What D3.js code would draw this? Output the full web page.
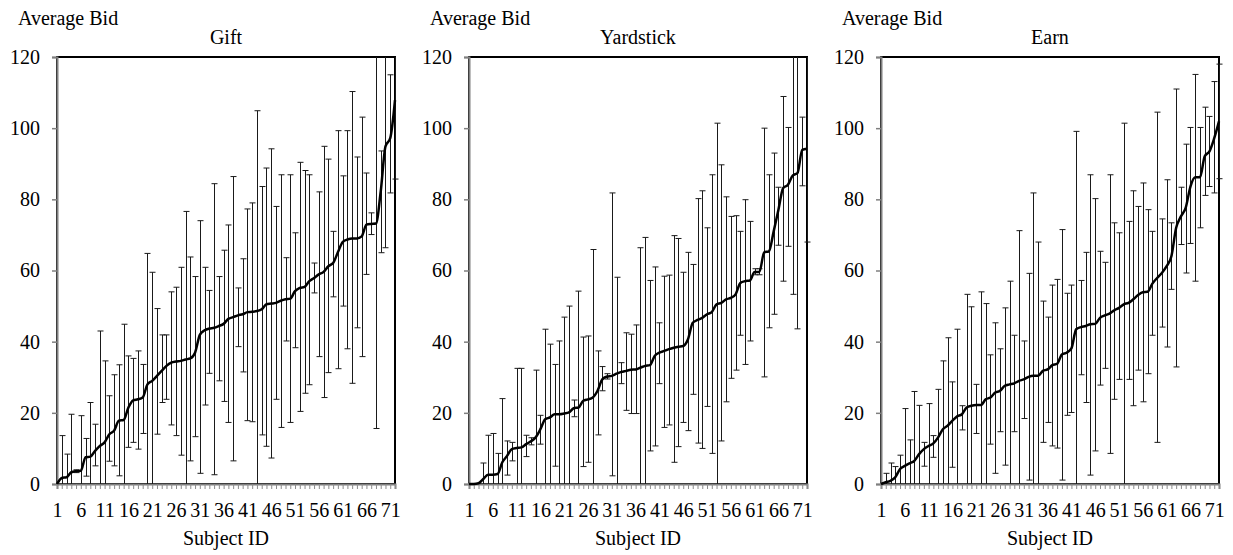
<!DOCTYPE html>
<html><head><meta charset="utf-8">
<script src="https://cdn.jsdelivr.net/npm/d3@7"></script>
<style>
body{margin:0;background:#fff}
svg{display:block}
text{font-family:"Times New Roman","Liberation Serif",Times,serif;fill:#000}
</style>
</head><body>
<svg id="c" width="1233" height="555"></svg>
<script>
const subjects = d3.range(1, 73);
const xTickLabels = [1, 6, 11, 16, 21, 26, 31, 36, 41, 46, 51, 56, 61, 66, 71];
const yTicks = [0, 20, 40, 60, 80, 100, 120];
const panelTitles = ["Gift", "Yardstick", "Earn"];
const yLabel = "Average Bid";
const xLabel = "Subject ID";

const giftMean = [0,1.7,1.9,3.3,3.6,3.7,7.5,7.7,9.3,10.7,11.7,14.0,15.0,17.8,18.0,21.5,23.5,23.8,24.3,28.0,29.0,30.4,31.8,33.2,34.1,34.4,34.6,35.0,35.3,36.9,41.9,43.2,43.7,43.9,44.4,45.0,46.4,46.9,47.4,47.7,48.3,48.4,48.6,49.1,50.5,50.7,50.9,51.5,51.9,52.1,54.2,55.1,55.4,57.0,57.9,58.9,59.6,61.2,62.1,65.1,68.0,68.7,69.0,69.0,69.6,72.9,73.1,73.2,82.2,94.9,97.2,107.9];
const giftHigh = [0,13.6,8.4,19.6,4.0,19.2,12.8,22.9,16.8,43.0,34.6,24.8,30.7,33.5,44.9,36.0,35.3,37.4,33.6,64.8,59.5,49.3,41.9,41.9,54.0,55.3,60.9,76.6,63.8,58.3,74.0,60.9,54.4,84.4,58.3,65.7,72.8,86.4,55.1,63.3,77.3,79.0,104.9,83.6,88.8,94.2,78.0,86.9,63.6,86.9,70.6,90.4,88.1,86.9,62.1,82.1,94.9,91.3,71.0,99.3,86.6,99.3,110.3,91.9,103.1,87.4,76.2,130,93.6,125,115.0,130];
const giftLow = [0,0,0,0,3.2,0,2.2,0,5.1,0,0,6.4,5.1,2.3,0,10.3,11.7,9.8,14.2,0,0,14.0,22.9,23.8,16.6,13.6,8.1,0,6.5,13.3,3.0,22.2,31.1,2.6,29.0,23.2,17.3,6.5,38.6,31.5,17.8,17.5,0,13.8,10.6,7.3,23.8,15.9,40.2,17.3,38.3,20.4,25.5,27.9,53.7,35.8,24.3,31.3,52.6,32.4,50.0,38.0,28.3,43.9,35.8,58.9,70.1,15.6,65.0,66.4,81.8,85.7];

const yardMean = [0,0,0.2,1.4,2.6,2.6,2.8,6.1,7.9,9.8,10.1,10.3,11.2,12.0,13.1,15.4,18.2,18.7,19.6,19.6,19.8,20.1,21.3,21.5,23.4,23.8,24.3,26.2,29.4,30.2,30.4,31.0,31.5,31.8,32.1,32.2,32.7,33.2,33.4,36.0,36.9,37.4,37.9,38.3,38.6,38.8,40.7,45.3,46.1,46.7,47.7,48.3,50.5,50.9,51.9,52.3,53.3,56.5,57.0,57.2,59.6,59.6,65.1,65.4,71.0,77.1,83.2,84.1,86.7,87.4,93.9,94.2];
const yardHigh = [0,0,0.2,5.9,13.7,14.2,8.6,24.0,12.1,11.7,32.5,32.5,13.7,13.0,32.0,19.3,43.5,39.3,33.6,40.2,46.9,50.0,23.6,54.2,41.3,41.6,65.9,37.4,33.0,31.0,81.8,58.1,34.1,42.5,42.1,44.7,66.4,69.3,57.2,61.0,45.3,58.4,58.7,69.8,69.0,59.5,65.1,61.7,80.2,82.4,72.0,86.9,101.4,89.7,80.7,75.2,75.4,71.0,79.9,73.8,60.5,60.5,100.0,86.9,93.0,83.4,108.9,100.2,125,125,103.1,121];
const yardLow = [0,0,0.2,0,0,0,0,0,2.5,6.5,0,0,7.7,11.0,0,11.2,0,0,5.0,0,0,0,18.9,0,4.9,6.1,0,13.8,26.2,29.5,2.3,0,28.2,20.7,19.8,19.8,0,0,9.3,10.7,28.2,15.9,16.6,6.1,10.5,17.3,15.0,25.2,11.5,10.0,21.8,8.6,0,12.1,23.1,29.7,32.0,41.8,33.6,40.2,58.8,58.8,30.1,43.9,47.7,67.1,57.0,66.8,53.3,43.6,83.8,68.0];

const earnMean = [0,0.5,0.9,1.9,4.2,5.1,5.8,6.5,8.4,9.8,10.7,11.4,13.1,15.4,16.4,17.8,19.0,19.6,21.5,22.0,22.2,22.2,23.8,24.3,25.7,26.2,27.6,28.0,28.3,29.0,29.4,30.1,30.4,30.4,31.8,32.2,33.4,33.8,36.4,36.9,38.1,43.5,44.1,44.4,44.9,45.0,46.7,47.4,47.9,48.8,49.5,50.5,50.9,51.9,53.1,53.9,54.0,56.3,57.9,59.3,61.2,64.0,72.0,75.2,77.6,83.6,86.2,86.2,92.1,93.5,97.2,101.9];
const earnHigh = [0,3.0,5.9,4.9,8.1,21.2,12.4,26.0,22.1,11.7,22.6,13.6,26.6,34.6,41.1,28.7,43.5,22.0,53.3,49.8,28.0,54.0,50.7,36.3,45.3,38.0,49.5,57.0,41.8,71.2,40.2,59.2,81.8,68.0,51.4,46.9,55.9,57.5,71.5,53.6,55.9,99.1,57.2,65.1,86.9,80.2,65.4,62.3,86.9,73.4,70.6,101.4,73.8,82.4,78.0,84.6,77.1,71.0,104.5,74.5,85.5,73.4,111.0,83.4,95.5,100.2,115.1,100.2,105.9,103.3,113.1,118.0];
const earnLow = [0,0,0,0,0,0,0,0,0,5.0,0,7.5,0,0,0,4.7,0,15.2,0,0,14.2,0,0,11.2,3.0,14.7,5.3,0,14.7,0,18.4,1.1,0,0,11.7,17.3,10.7,10.1,1.1,19.3,20.1,0,30.7,22.9,2.5,9.3,27.8,32.5,8.6,23.8,29.4,0,29.4,22.0,32.0,23.1,31.0,41.8,11.7,44.1,38.5,54.7,32.9,67.3,59.3,67.6,57.0,72.0,81.1,83.6,81.8,85.8];

const panels = [
  {title: panelTitles[0], mean: giftMean, hi: giftHigh, lo: giftLow},
  {title: panelTitles[1], mean: yardMean, hi: yardHigh, lo: yardLow},
  {title: panelTitles[2], mean: earnMean, hi: earnHigh, lo: earnLow}
];

const FONT = '"Times New Roman","Liberation Serif",Times,serif';
const svg = d3.select("#c");
const lefts = [57, 469, 881];
const plotW = 338, plotTop = 57, plotBottom = 484;
const y = d3.scaleLinear().domain([0, 120]).range([plotBottom, plotTop]);
const clamp = v => Math.max(0, Math.min(120, v));

panels.forEach((p, k) => {
  const L = lefts[k];
  const x = d3.scalePoint().domain(subjects).range([L, L + plotW]).padding(0);
  const g = svg.append("g");

  g.append("rect").attr("x", L).attr("y", plotTop).attr("width", plotW).attr("height", plotBottom - plotTop)
    .attr("fill", "none").attr("stroke", "#000").attr("stroke-width", 2);

  const ya = g.append("g").attr("transform", `translate(${L},0)`)
    .call(d3.axisLeft(y).tickValues(yTicks).tickSize(5).tickPadding(12));
  ya.attr("font-family", FONT).attr("font-size", 20);
  ya.select(".domain").attr("stroke", "#7f7f7f").attr("stroke-width", 2);
  ya.selectAll(".tick line").attr("stroke", "#7f7f7f").attr("stroke-width", 1.5);
  ya.selectAll("text").attr("fill", "#000");

  const xa = g.append("g").attr("transform", `translate(0,${plotBottom})`)
    .call(d3.axisBottom(x).tickValues(subjects).tickSize(5).tickPadding(28)
      .tickFormat(d => xTickLabels.includes(d) ? String(d) : ""));
  xa.attr("font-family", FONT).attr("font-size", 20);
  xa.select(".domain").attr("stroke", "#7f7f7f").attr("stroke-width", 2);
  xa.selectAll(".tick line").attr("stroke", "#8c8c8c");
  xa.selectAll("text").attr("fill", "#000").attr("dy", "0");

  const eb = g.append("g").attr("stroke", "#1a1a1a").attr("stroke-width", 1).attr("fill", "none");
  subjects.forEach((s, i) => {
    const hi = p.hi[i], lo = p.lo[i];
    if (hi - lo <= 0.3) return;
    const cx = Math.round(x(s)) + 0.5;
    eb.append("line").attr("x1", cx).attr("x2", cx).attr("y1", y(clamp(hi))).attr("y2", y(clamp(lo)));
    if (hi < 120) eb.append("line").attr("x1", cx - 3).attr("x2", cx + 3).attr("y1", y(hi)).attr("y2", y(hi));
    if (lo > 0) eb.append("line").attr("x1", cx - 3).attr("x2", cx + 3).attr("y1", y(lo)).attr("y2", y(lo));
  });

  g.append("path").datum(subjects.map((s, i) => [s, p.mean[i]]))
    .attr("fill", "none").attr("stroke", "#000").attr("stroke-width", 2.5).attr("stroke-linejoin", "round")
    .attr("d", d3.line().x(d => x(d[0])).y(d => y(d[1])).curve(d3.curveMonotoneX));

  g.append("text").attr("x", L - 39).attr("y", 25).attr("font-size", 20).attr("font-family", FONT).text(yLabel);
  g.append("text").attr("x", L + plotW / 2).attr("y", 44).attr("text-anchor", "middle").attr("font-size", 20).attr("font-family", FONT).text(p.title);
  g.append("text").attr("x", L + plotW / 2).attr("y", 545).attr("text-anchor", "middle").attr("font-size", 20).attr("font-family", FONT).text(xLabel);
});
</script>
</body></html>
